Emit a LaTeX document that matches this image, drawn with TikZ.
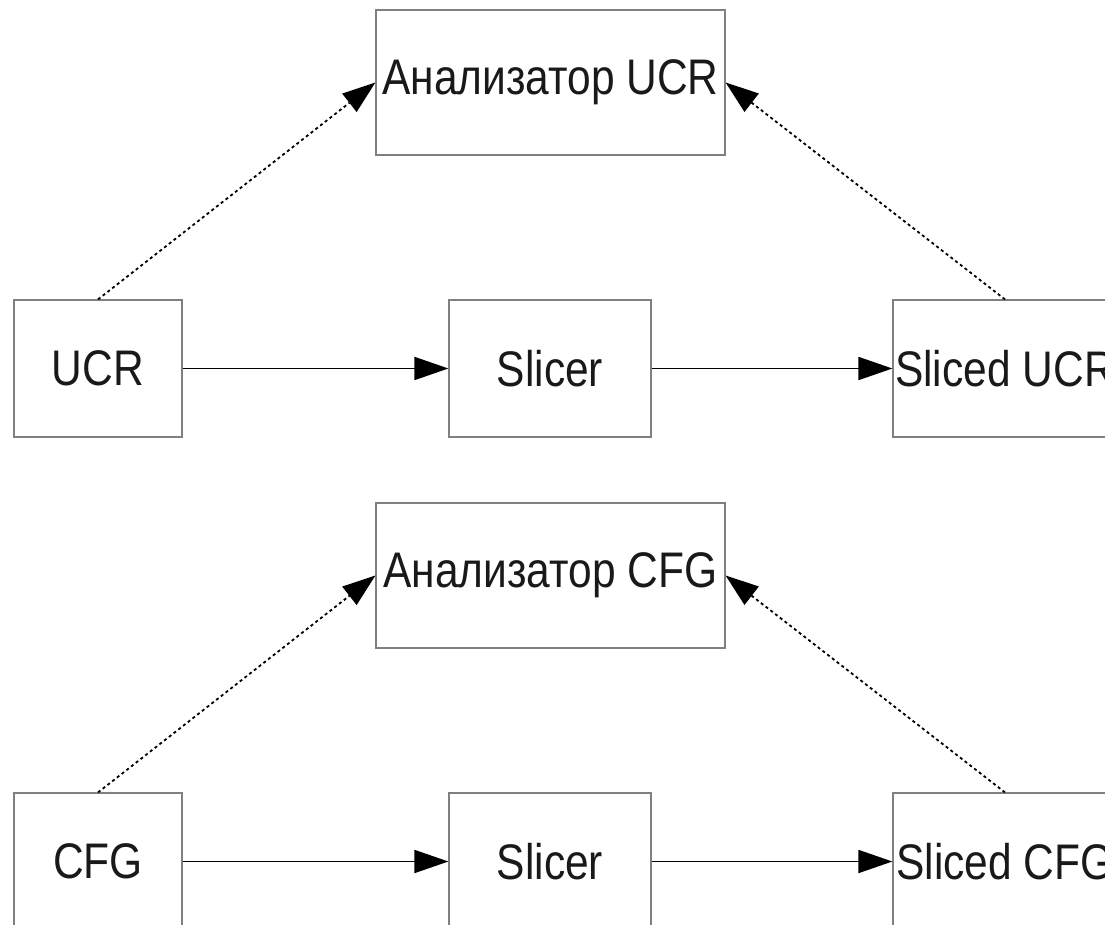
\documentclass[tikz,border=0pt]{standalone}
\usepackage{fontspec}
\setmainfont{Liberation Sans}
\usetikzlibrary{arrows.meta}
\newcommand\boxlabel[1]{\scalebox{0.85}[1]{#1}}
\begin{document}
\begin{tikzpicture}[x=1pt,y=-1pt,
  blk/.style={draw=black!50, line width=1.2pt, rectangle, inner sep=0pt,
    font=\fontsize{50}{50}\selectfont, text=black!90},
  anabox/.style={blk, minimum width=349pt, minimum height=145pt},
  srcbox/.style={blk, minimum width=168pt, minimum height=137pt},
  slcbox/.style={blk, minimum width=202pt, minimum height=137pt},
  outbox/.style={blk, minimum width=224pt, minimum height=137pt},
  flow/.style={line width=1.8pt, -{Triangle[length=34pt,width=23pt]}},
  feed/.style={line width=1.8pt, dash pattern=on 3pt off 3pt,
    -{Triangle[length=33pt,width=23pt]}}]
  \useasboundingbox (0,0) rectangle (1105,925);

  % UCR pipeline
  \node[anabox] (anaU) at (550.5,82.5) {\boxlabel{Анализатор UCR}};
  \node[srcbox] (ucr)  at (98,368.5)   {\boxlabel{UCR}};
  \node[slcbox] (slU)  at (550,368.5)  {\boxlabel{Slicer}};
  \node[outbox] (sucr) at (1005,368.5) {\boxlabel{Sliced UCR}};

  \draw[flow] (ucr.east) -- (slU.west);
  \draw[flow] (slU.east) -- (sucr.west);
  \draw[feed] (ucr.north) -- (anaU.west);
  \draw[feed] (sucr.north) -- (anaU.east);

  % CFG pipeline
  \node[anabox] (anaC) at (550.5,575.5) {\boxlabel{Анализатор CFG}};
  \node[srcbox] (cfg)  at (98,861.5)   {\boxlabel{CFG}};
  \node[slcbox] (slC)  at (550,861.5)  {\boxlabel{Slicer}};
  \node[outbox] (scfg) at (1005,861.5) {\boxlabel{Sliced CFG}};

  \draw[flow] (cfg.east) -- (slC.west);
  \draw[flow] (slC.east) -- (scfg.west);
  \draw[feed] (cfg.north) -- (anaC.west);
  \draw[feed] (scfg.north) -- (anaC.east);
\end{tikzpicture}
\end{document}
